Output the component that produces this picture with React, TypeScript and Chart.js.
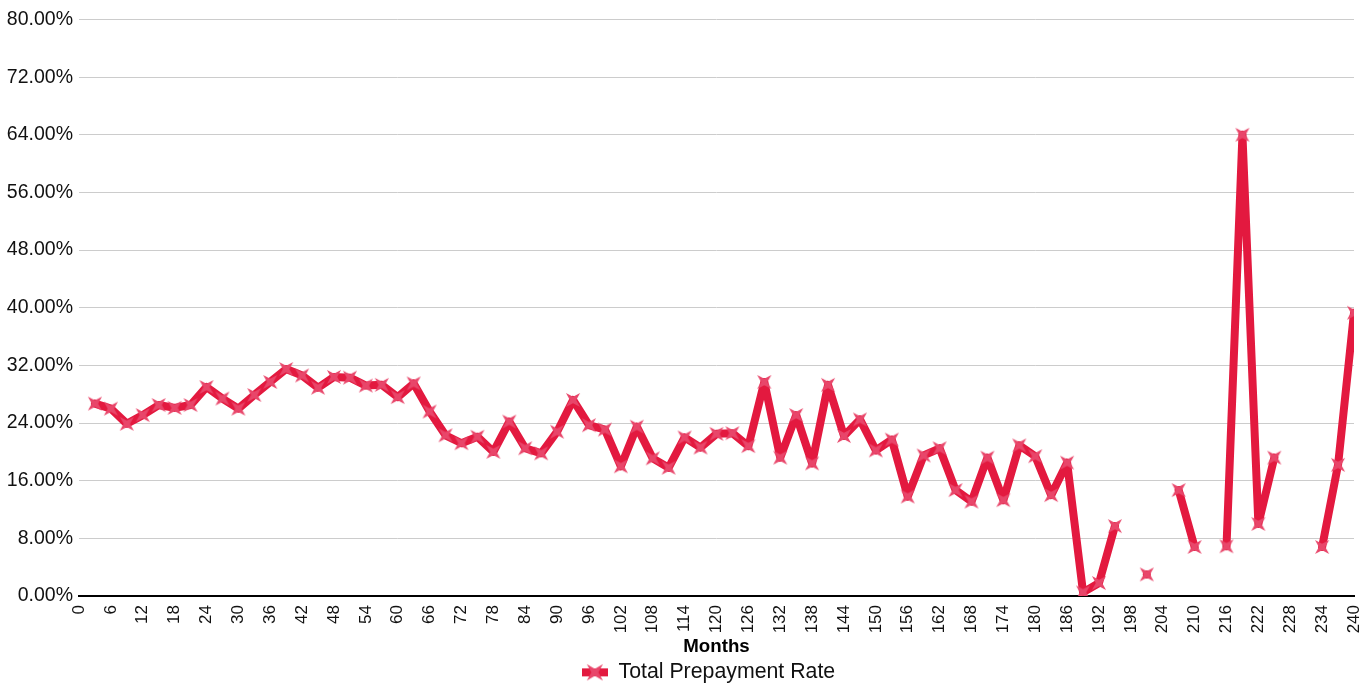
import React, { useEffect, useRef } from 'react';
import { Chart, registerables } from 'chart.js';

Chart.register(...registerables);

const months: number[] = [
  3, 6, 9, 12, 15, 18, 21, 24, 27, 30, 33, 36, 39, 42, 45, 48, 51, 54, 57, 60,
  63, 66, 69, 72, 75, 78, 81, 84, 87, 90, 93, 96, 99, 102, 105, 108, 111, 114, 117, 120,
  123, 126, 129, 132, 135, 138, 141, 144, 147, 150, 153, 156, 159, 162, 165, 168, 171, 174, 177, 180,
  183, 186, 189, 192, 195, 198, 201, 204, 207, 210, 213, 216, 219, 222, 225, 228, 231, 234, 237, 240,
];

const totalPrepaymentRate: (number | null)[] = [
  26.7, 26.0, 23.9, 25.1, 26.5, 26.1, 26.5, 29.0, 27.4, 26.0, 27.9, 29.7, 31.5, 30.6, 28.9, 30.4, 30.3, 29.2, 29.3, 27.6,
  29.5, 25.6, 22.3, 21.2, 22.1, 20.0, 24.2, 20.5, 19.8, 22.8, 27.2, 23.7, 23.1, 18.0, 23.5, 19.1, 17.8, 22.0, 20.6, 22.5,
  22.6, 20.8, 29.7, 19.2, 25.1, 18.4, 29.3, 22.2, 24.5, 20.2, 21.7, 13.8, 19.5, 20.5, 14.7, 13.1, 19.2, 13.3, 20.9, 19.4,
  14.0, 18.5, 0.5, 1.8, 9.7, null, 3.0, null, 14.7, 6.8, null, 6.9, 64.0, 10.0, 19.2, null, null, 6.8, 18.2, 39.3,
];

const seriesLabel = 'Total Prepayment Rate';
const xAxisTitle = 'Months';
const xMin = 0;
const xMax = 240;
const xStep = 6;
const yMin = 0;
const yMax = 80;
const yStep = 8;

const LINE_COLOR = '#e3193f';
const MARKER_COLOR = '#e8466a';
const FONT = "'Liberation Sans', Arial, Helvetica, sans-serif";

function drawStar(ctx: CanvasRenderingContext2D, cx: number, cy: number, outer: number, inner: number) {
  ctx.beginPath();
  for (let i = 0; i < 8; i++) {
    const ang = (Math.PI / 4) * i + Math.PI / 4;
    const r = i % 2 === 0 ? outer : inner;
    const px = cx + Math.cos(ang) * r;
    const py = cy + Math.sin(ang) * r;
    if (i === 0) ctx.moveTo(px, py);
    else ctx.lineTo(px, py);
  }
  ctx.closePath();
  ctx.fill();
}

export default function App() {
  const ref = useRef<HTMLCanvasElement>(null);

  useEffect(() => {
    if (!ref.current) return;

    const marker = document.createElement('canvas');
    marker.width = 20;
    marker.height = 20;
    const mctx = marker.getContext('2d')!;
    mctx.fillStyle = MARKER_COLOR;
    drawStar(mctx, 10, 10, 10, 3.2);

    const legendIcon = document.createElement('canvas');
    legendIcon.width = 26;
    legendIcon.height = 20;
    const lctx = legendIcon.getContext('2d')!;
    lctx.fillStyle = LINE_COLOR;
    lctx.fillRect(0, 6, 26, 8);
    lctx.fillStyle = MARKER_COLOR;
    drawStar(lctx, 13, 10, 11.5, 3.5);

    const data = months.map((m, i) => ({ x: m, y: totalPrepaymentRate[i] }));

    const legendShift = {
      id: 'legendShift',
      afterLayout(chart: any) {
        const l = chart.legend;
        if (!l) return;
        const dx = 708.5 - (l.left + l.right) / 2;
        l.left += dx;
        l.right += dx;
      },
    };

    const chart = new Chart(ref.current, {
      type: 'line',
      data: {
        datasets: [
          {
            label: seriesLabel,
            data: data as any,
            borderColor: LINE_COLOR,
            backgroundColor: LINE_COLOR,
            borderWidth: 8,
            pointStyle: marker as any,
            pointRadius: 10,
            spanGaps: false,
            tension: 0,
            borderJoinStyle: 'round',
            borderCapStyle: 'round',
          },
        ],
      },
      options: {
        animation: false,
        responsive: true,
        maintainAspectRatio: false,
        layout: { padding: { top: 19.5, right: 17, left: 0, bottom: 0 } },
        plugins: {
          tooltip: { enabled: false },
          legend: {
            position: 'bottom',
            labels: {
              usePointStyle: true,
              pointStyle: legendIcon as any,
              pointStyleWidth: 26,
              padding: 3.7,
              color: '#111',
              font: { family: FONT, size: 21.3 },
            },
          },
        },
        scales: {
          x: {
            type: 'linear',
            min: xMin,
            max: xMax,
            grid: { display: false },
            border: { display: true, color: '#000', width: 2 },
            ticks: {
              stepSize: xStep,
              autoSkip: false,
              maxRotation: 90,
              minRotation: 90,
              padding: 1,
              color: '#111',
              font: { family: FONT, size: 17 },
            },
            title: {
              display: true,
              text: xAxisTitle,
              color: '#000',
              font: { family: FONT, size: 18.7, weight: 'bold' },
              padding: { top: 0, bottom: 0 },
            },
            afterFit: (scale: any) => {
              scale.height = 62;
              scale.paddingLeft = 0;
              scale.paddingRight = 0;
            },
          },
          y: {
            min: yMin,
            max: yMax,
            grid: { color: '#cccccc', lineWidth: 1, drawTicks: false },
            border: { display: false },
            ticks: {
              stepSize: yStep,
              padding: 6,
              color: '#111',
              font: { family: FONT, size: 19.5 },
              callback: (v: any) => Number(v).toFixed(2) + '%',
            },
            afterFit: (scale: any) => {
              scale.width = 79;
            },
          },
        },
      },
      plugins: [legendShift],
    });

    return () => chart.destroy();
  }, []);

  return (
    <div style={{ position: 'fixed', left: 0, top: 0, width: 1372, height: 693 }}>
      <canvas ref={ref} />
    </div>
  );
}
